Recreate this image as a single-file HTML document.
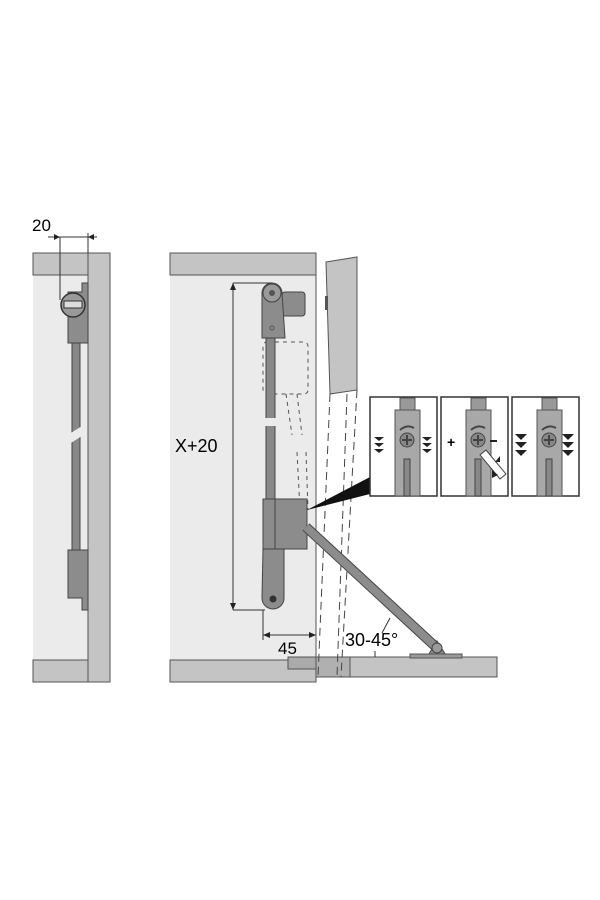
<!DOCTYPE html>
<html><head><meta charset="utf-8"><style>body{margin:0;background:#fff}svg{display:block}</style></head>
<body>
<svg width="600" height="900" viewBox="0 0 600 900" xmlns="http://www.w3.org/2000/svg" font-family="Liberation Sans, sans-serif">
<!-- LEFT CABINET -->
<rect x="33" y="275" width="55" height="385" fill="#ebebeb"/>
<rect x="33" y="253" width="77" height="22" fill="#c4c4c4" stroke="#555" stroke-width="1"/>
<rect x="88" y="253" width="22" height="429" fill="#c4c4c4" stroke="#555" stroke-width="1"/>
<rect x="33" y="660" width="55" height="22" fill="#c4c4c4" stroke="#555" stroke-width="1"/>
<!-- left mechanism -->
<rect x="72" y="340" width="8" height="212" fill="#888" stroke="#444" stroke-width="1"/>
<polygon points="66,446 82,436 82,426 66,436" fill="#ebebeb"/>
<path d="M68,292 L82,292 L82,283 L88,283 L88,343 L68,343 Z" fill="#8c8c8c" stroke="#444"/>
<circle cx="73" cy="305" r="12" fill="#9a9a9a" stroke="#333" stroke-width="1.5"/>
<rect x="64" y="301" width="18" height="7" fill="#ddd" stroke="#333"/>
<path d="M68,550 L88,550 L88,610 L82,610 L82,598 L68,598 Z" fill="#8c8c8c" stroke="#444"/>
<!-- dim 20 -->
<text x="32" y="231" font-size="17">20</text>
<line x1="48" y1="237" x2="97" y2="237" stroke="#333"/>
<line x1="60" y1="237" x2="60" y2="300" stroke="#333"/>
<line x1="88" y1="233" x2="88" y2="253" stroke="#333"/>
<polygon points="60,237 54,234 54,240" fill="#222"/>
<polygon points="88,237 94,234 94,240" fill="#222"/>

<!-- RIGHT CABINET -->
<rect x="170" y="275" width="146" height="385" fill="#ebebeb"/>
<rect x="170" y="253" width="146" height="22" fill="#c4c4c4" stroke="#555"/>
<line x1="316" y1="253" x2="316" y2="682" stroke="#555"/>
<rect x="170" y="660" width="146" height="22" fill="#c4c4c4" stroke="#555"/>
<rect x="316" y="657" width="181" height="20" fill="#c4c4c4" stroke="#555"/>
<rect x="288" y="657" width="28" height="12" fill="#aaa" stroke="#555"/>
<rect x="316" y="657" width="34" height="20" fill="#b0b0b0" stroke="#555"/>
<!-- door flap -->
<polygon points="326,262 357,257 357,390 330,394" fill="#c4c4c4" stroke="#555"/>
<rect x="325" y="296" width="3" height="14" fill="#555"/>
<g stroke="#444" stroke-dasharray="8,5" fill="none">
<line x1="330" y1="394" x2="318" y2="677"/>
<line x1="357" y1="390" x2="341" y2="677"/>
<line x1="347" y1="394" x2="337" y2="677"/>
</g>
<g stroke="#555" stroke-dasharray="4,4" fill="none">
<rect x="263" y="342" width="45" height="52" rx="4"/>
<line x1="286" y1="394" x2="292" y2="435"/><line x1="297" y1="394" x2="302" y2="435"/>
<line x1="297" y1="452" x2="300" y2="510"/><line x1="306" y1="452" x2="308" y2="510"/>
</g>
<!-- mechanism -->
<rect x="266" y="336" width="9" height="164" fill="#888" stroke="#444"/>
<rect x="264" y="418" width="14" height="8" fill="#ebebeb"/>
<rect x="282" y="292" width="23" height="24" rx="3" fill="#8c8c8c" stroke="#444"/>
<path d="M262,293 A10,10 0 0 1 282,293 L285,338 L262,338 Z" fill="#8c8c8c" stroke="#444"/>
<circle cx="272" cy="293" r="9" fill="#9a9a9a" stroke="#444"/>
<circle cx="272" cy="293" r="3" fill="#555"/>
<circle cx="272" cy="328" r="2" fill="none" stroke="#555"/>
<rect x="263" y="499" width="44" height="50" fill="#8c8c8c" stroke="#444"/>
<line x1="275" y1="499" x2="275" y2="549" stroke="#444"/>
<path d="M263,549 L284,549 L284,598 A11,11 0 0 1 262,598 Z" fill="#8c8c8c" stroke="#444"/>
<circle cx="273" cy="599" r="3.5" fill="#333"/>
<!-- arm -->
<line x1="306" y1="527" x2="438" y2="649" stroke="#444" stroke-width="10"/>
<line x1="306" y1="527" x2="438" y2="649" stroke="#8c8c8c" stroke-width="8"/>
<polygon points="427,657 437,641 447,657" fill="#8c8c8c" stroke="#444"/>
<circle cx="437" cy="648" r="5" fill="#9a9a9a" stroke="#444"/>
<rect x="410" y="654" width="52" height="4" fill="#999" stroke="#555"/>
<!-- X+20 -->
<line x1="233" y1="283" x2="272" y2="283" stroke="#333"/>
<line x1="233" y1="610" x2="265" y2="610" stroke="#333"/>
<line x1="233" y1="283" x2="233" y2="610" stroke="#333"/>
<polygon points="233,283 230,290 236,290" fill="#222"/>
<polygon points="233,610 230,603 236,603" fill="#222"/>
<text x="175" y="452" font-size="18">X+20</text>
<!-- 45 -->
<line x1="263" y1="610" x2="263" y2="640" stroke="#333"/>
<line x1="263" y1="635" x2="316" y2="635" stroke="#333"/>
<polygon points="263,635 270,632 270,638" fill="#222"/>
<polygon points="316,635 309,632 309,638" fill="#222"/>
<text x="278" y="654" font-size="17">45</text>
<text x="345" y="646" font-size="18">30-45°</text>
<path d="M375,657 L375,651" stroke="#333"/>
<path d="M382,633 L390,618" stroke="#333"/>
<!-- wedge -->
<polygon points="307,510 370,477 370,494" fill="#111"/>
<!-- detail boxes -->
<g id="box1">
<rect x="370" y="397" width="67" height="99" fill="#fff" stroke="#333" stroke-width="1.5"/>
<rect x="400" y="398" width="15" height="13" fill="#999" stroke="#555"/>
<rect x="395" y="410" width="25" height="86" fill="#a8a8a8" stroke="#555"/>
<circle cx="407" cy="440" r="7" fill="#888" stroke="#444"/>
<path d="M407,435 V445 M402,440 H412" stroke="#444" stroke-width="2"/>
<path d="M400,430 Q407,424 414,428" stroke="#444" stroke-width="2" fill="none"/>
<rect x="404" y="459" width="6" height="37" fill="#888" stroke="#444"/>
</g>
<g fill="#222">
<polygon points="374,437 384,437 379,441"/><polygon points="374,443 384,443 379,447"/><polygon points="374,449 384,449 379,453"/>
<polygon points="422,437 432,437 427,441"/><polygon points="422,443 432,443 427,447"/><polygon points="422,449 432,449 427,453"/>
</g>
<use href="#box1" x="71"/>
<use href="#box1" x="142"/>
<text x="447" y="447" font-size="14" font-weight="bold">+</text>
<rect x="490" y="440" width="7" height="2" fill="#222"/>
<polygon points="480,455 486,450 506,474 500,479" fill="#fff" stroke="#444"/>
<polygon points="495,462 500,456 500,462" fill="#222"/>
<polygon points="492,470 498,475 492,478" fill="#222"/>
<g fill="#222">
<polygon points="515,434 527,434 521,440"/><polygon points="515,442 527,442 521,448"/><polygon points="515,450 527,450 521,456"/>
<polygon points="562,434 574,434 568,440"/><polygon points="562,442 574,442 568,448"/><polygon points="562,450 574,450 568,456"/>
</g>
</svg>
</body></html>
